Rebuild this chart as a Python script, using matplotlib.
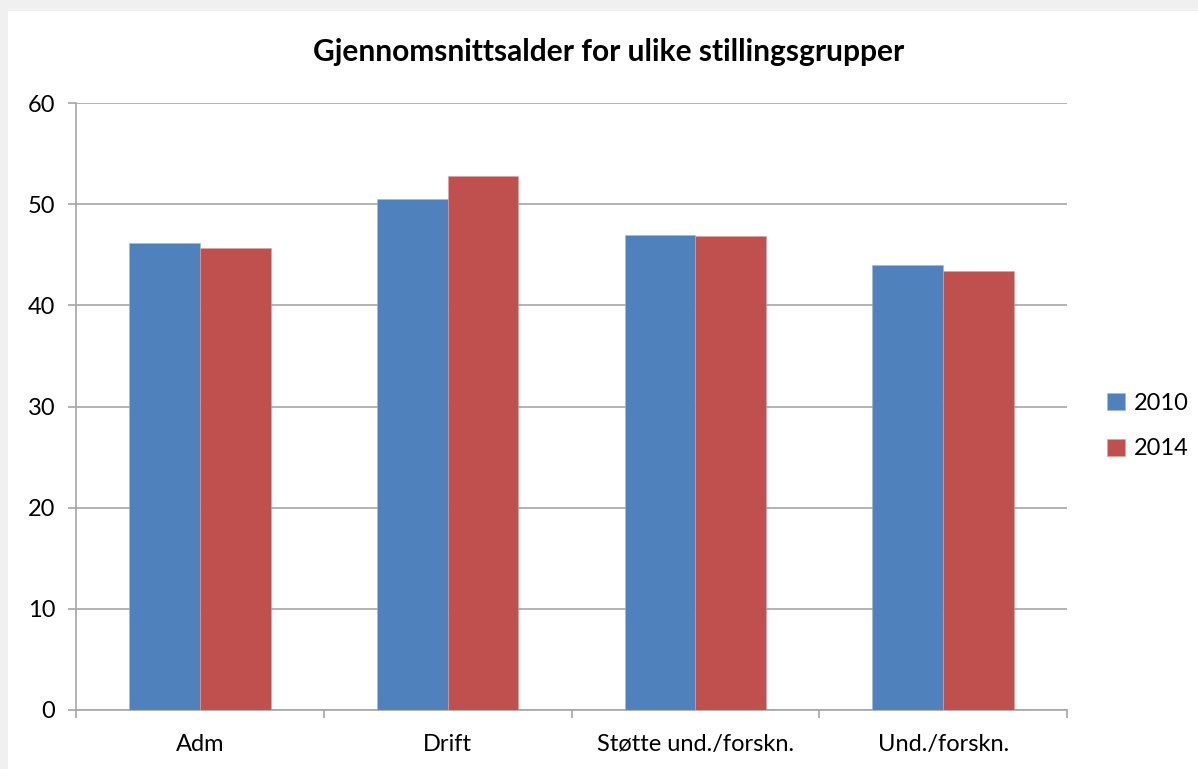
import numpy as np
import matplotlib
matplotlib.use('Agg')
import matplotlib.pyplot as plt
from matplotlib.patches import Rectangle

kategorier = ['Adm', 'Drift', 'Støtte und./forskn.', 'Und./forskn.']
aar_2010 = [46.2, 50.5, 47.0, 44.0]
aar_2014 = [45.7, 52.8, 46.9, 43.4]
serier = ['2010', '2014']

plt.rcParams['font.family'] = ['Lato', 'DejaVu Sans']

fig = plt.figure(figsize=(11.98, 7.69), dpi=100)
fig.patch.set_facecolor('#f0f0f0')
fig.add_artist(Rectangle((8 / 1198, 0), 1, 1 - 11 / 769, transform=fig.transFigure,
                         facecolor='white', edgecolor='none', zorder=0))

ax = fig.add_axes([76 / 1198, 1 - 710 / 769, 991 / 1198, 607 / 769])
ax.set_facecolor('none')

x = np.arange(len(kategorier)) + 0.5
w = 1 / 3.5
ax.bar(x - w / 2, aar_2010, w, color='#4f81bd', edgecolor='#9fb8d9', linewidth=0.4,
       label=serier[0], zorder=3)
ax.bar(x + w / 2, aar_2014, w, color='#c0504d', edgecolor='#dba3a1', linewidth=0.4,
       label=serier[1], zorder=3)

ax.set_xlim(0, len(kategorier))
ax.set_ylim(0, 60)
ax.set_yticks(range(0, 61, 10))
ax.yaxis.grid(True, color='#a6a6a6', linewidth=1.2)
ax.set_axisbelow(True)

ax.set_xticks(x)
ax.set_xticklabels(kategorier)
ax.set_xticks(np.arange(len(kategorier) + 1), minor=True)
ax.tick_params(axis='x', which='major', length=0, pad=17, labelsize=17, colors='#000000')
ax.tick_params(axis='x', which='minor', length=6, width=1.2, color='#a6a6a6')
ax.tick_params(axis='y', length=6, width=1.2, color='#a6a6a6', pad=9, labelsize=17)

for s in ['top', 'right']:
    ax.spines[s].set_visible(False)
for s in ['left', 'bottom']:
    ax.spines[s].set_color('#a6a6a6')
    ax.spines[s].set_linewidth(1.2)

fig.text(609 / 1198, 1 - 52 / 769, 'Gjennomsnittsalder for ulike stillingsgrupper',
         ha='center', va='center', fontsize=21.5, fontweight='bold')

fig.legend(loc='center left', bbox_to_anchor=(1100 / 1198, 1 - 426 / 769),
           frameon=False, fontsize=17, handlelength=0.75, handleheight=0.75,
           handletextpad=0.4, labelspacing=1.05, borderaxespad=0, borderpad=0.3)

fig.savefig('out.png', dpi=100, facecolor=fig.get_facecolor())
